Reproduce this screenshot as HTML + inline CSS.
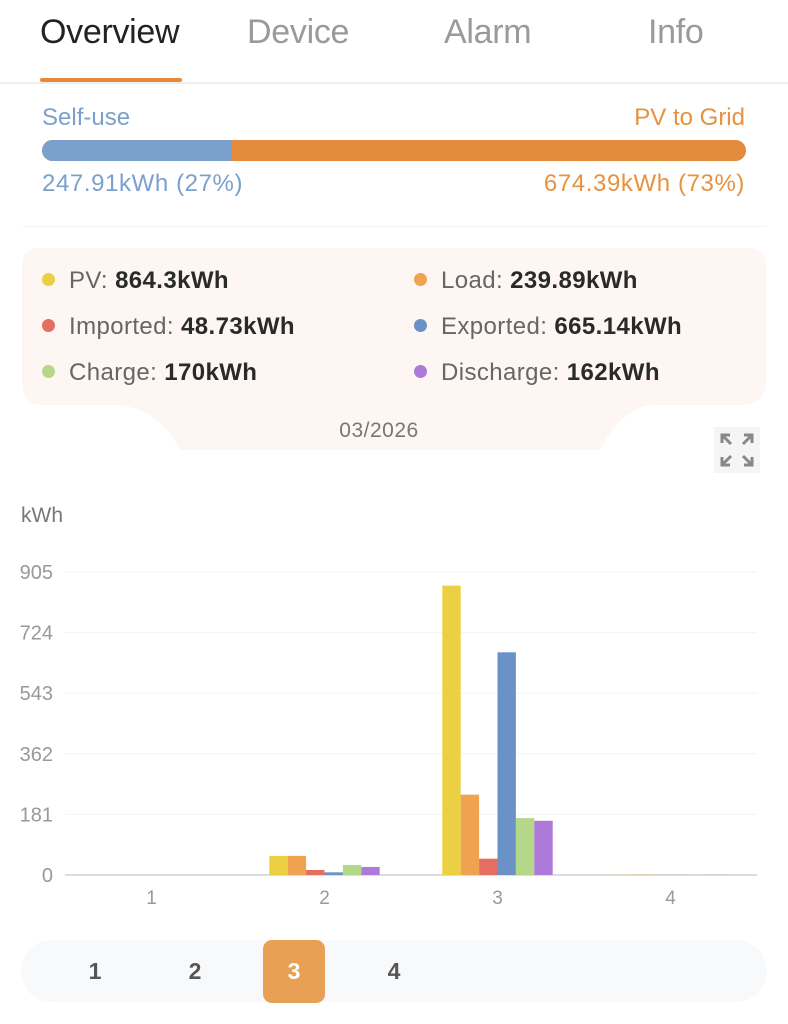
<!DOCTYPE html>
<html><head><meta charset="utf-8">
<style>
*{box-sizing:border-box;margin:0;padding:0}
body{width:788px;height:1024px;background:#fff;font-family:"Liberation Sans",sans-serif;position:relative;overflow:hidden}
.abs{position:absolute}
.tab{position:absolute;top:13px;font-size:34px;color:#9a9a9a;letter-spacing:-0.3px}
.lg{position:absolute;font-size:24px;color:#666;white-space:nowrap;letter-spacing:0.4px}
.lg b{color:#2a2a2a}
.dot{display:inline-block;width:13px;height:13px;border-radius:50%;margin-right:14px;vertical-align:2px}
.pg{position:absolute;top:958px;font-size:23px;font-weight:bold;color:#555;width:40px;text-align:center}
</style></head><body>
<div class="tab" style="left:40px;color:#222">Overview</div>
<div class="tab" style="left:247px">Device</div>
<div class="tab" style="left:444px">Alarm</div>
<div class="tab" style="left:648px">Info</div>
<div class="abs" style="left:40px;top:78px;width:142px;height:4px;background:#e6893a;border-radius:2px"></div>
<div class="abs" style="left:0;top:82px;width:788px;height:2px;background:#eee"></div>

<div class="abs" style="left:42px;top:104px;font-size:24px;color:#7ba0cc">Self-use</div>
<div class="abs" style="right:43px;top:104px;font-size:24px;color:#e6923f">PV to Grid</div>
<div class="abs" style="left:42px;top:140px;width:704px;height:21px;border-radius:11px;background:#e38a3b;overflow:hidden"><div style="width:189px;height:100%;background:#7ba0cc"></div></div>
<div class="abs" style="left:42px;top:170px;font-size:24px;color:#7ba0cc;letter-spacing:0.6px">247.91kWh (27%)</div>
<div class="abs" style="right:43px;top:170px;font-size:24px;color:#e6923f;letter-spacing:0.6px">674.39kWh (73%)</div>
<div class="abs" style="left:22px;top:226px;width:744px;height:1px;background:#f2f2f2"></div>

<svg class="abs" style="left:0;top:240px" width="788" height="215">
<path d="M40 8 H748 Q766 8 766 26 V140 Q766 165 740 165 H650 Q620 170 600 210 H180 Q160 170 120 165 H40 Q22 165 22 140 V26 Q22 8 40 8 Z" fill="#fdf6f2"/>
</svg>
<div class="lg" style="left:42px;top:267px"><span class="dot" style="background:#ecd043"></span>PV: <b>864.3kWh</b></div>
<div class="lg" style="left:414px;top:267px"><span class="dot" style="background:#efa24f"></span>Load: <b>239.89kWh</b></div>
<div class="lg" style="left:42px;top:313px"><span class="dot" style="background:#e46f61"></span>Imported: <b>48.73kWh</b></div>
<div class="lg" style="left:414px;top:313px"><span class="dot" style="background:#6b92c6"></span>Exported: <b>665.14kWh</b></div>
<div class="lg" style="left:42px;top:359px"><span class="dot" style="background:#b5d789"></span>Charge: <b>170kWh</b></div>
<div class="lg" style="left:414px;top:359px"><span class="dot" style="background:#ad7ad9"></span>Discharge: <b>162kWh</b></div>
<div class="abs" style="left:0;width:758px;text-align:center;top:419px;font-size:21px;color:#777;letter-spacing:0.5px">03/2026</div>
<svg class="abs" style="left:714px;top:427px" width="46" height="46">
<rect width="46" height="46" fill="#f5f5f5"/>
<g stroke="#888" stroke-width="3" fill="none"><path d="M8 16V8H16M8 8L17 17M30 8H38V16M38 8L29 17M8 30V38H16M8 38L17 29M38 30V38H30M38 38L29 29"/></g>
</svg>

<svg class="abs" id="chart" style="left:0;top:490px" width="788" height="430"></svg>

<div class="abs" style="left:21px;top:940px;width:746px;height:62px;border-radius:31px;background:#f8f9fb"></div>
<div class="abs" style="left:263px;top:940px;width:62px;height:63px;border-radius:9px;background:#e8a055"></div>
<div class="pg" style="left:75px">1</div>
<div class="pg" style="left:175px">2</div>
<div class="pg" style="left:274px;color:#fff">3</div>
<div class="pg" style="left:374px">4</div>

<script>
const categories=["1","2","3","4"];
const seriesNames=["PV","Load","Imported","Exported","Charge","Discharge"];
const seriesColors=["#ecd043","#efa24f","#e46f61","#6b92c6","#b5d789","#ad7ad9"];
const pv=[0,57,864.3,0.5];
const load=[0,57,239.89,1];
const imported=[0,15,48.73,0.3];
const exported=[0,8,665.14,0.3];
const charge=[0,30,170,0.3];
const discharge=[0,24,162,0.5];
const yTicks=[0,181,362,543,724,905];
const yMax=905;
const series=[pv,load,imported,exported,charge,discharge];

const svg=document.getElementById('chart');
const NS='http://www.w3.org/2000/svg';
const x0=65,x1=757,yTop=82,yBase=385;
const band=(x1-x0)/categories.length;
const barW=18.4;
function yScale(v){return yBase-(v/yMax)*(yBase-yTop);}
function xCenter(i){return x0+band*(i+0.5);}
function mk(t,a){const e=document.createElementNS(NS,t);for(const k in a)e.setAttribute(k,a[k]);svg.appendChild(e);return e;}

let u=mk('text',{x:21,y:32,'font-size':21,fill:'#777'});u.textContent='kWh';


yTicks.forEach(t=>{
  const y=yScale(t);
  const l=mk('line',{x1:x0,x2:x1,y1:y,y2:y,stroke:t===0?'#ddd':'#f3f3f3','stroke-width':t===0?2:1});
  
  
  const tx=mk('text',{x:53,y:y+7,'text-anchor':'end','font-size':20,fill:'#999'});tx.textContent=t;
  
  
});
categories.forEach((c,i)=>{
  const tx=mk('text',{x:xCenter(i),y:414,'text-anchor':'middle','font-size':19,fill:'#999'});tx.textContent=c;
  
  
  series.forEach((s,j)=>{
    const v=s[i];
    const bx=xCenter(i)-barW*3+j*barW;
    const r=mk('rect',{x:bx,y:yScale(v),width:barW,height:Math.max(0,yBase-yScale(v)),fill:seriesColors[j]});
    
    
  });
});
</script>
</body></html>
